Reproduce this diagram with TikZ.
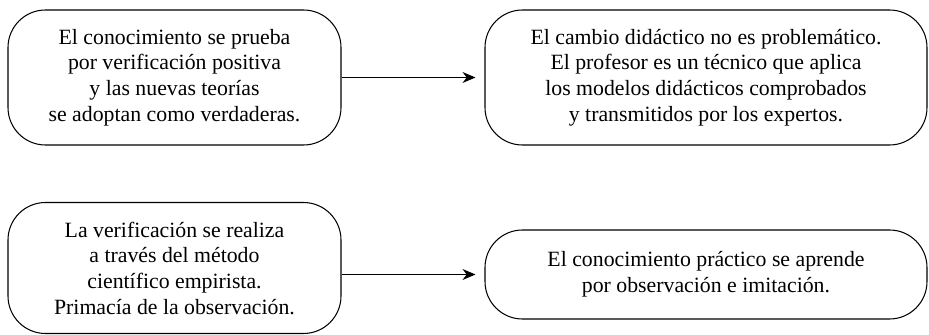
\documentclass[tikz,border=0pt]{standalone}
\usepackage{fontspec}
\setmainfont{Liberation Serif}
\usetikzlibrary{arrows.meta}
\begin{document}
\begin{tikzpicture}[%
% common options for the boxes:
box/.style = {draw, line width=0.6pt, rounded corners=0.75cm, align=center,
            inner sep=0, font=\rmfamily\fontsize{12.4}{14.6}\selectfont},
% common options for the arrows:
link/.style = {-{Stealth[length=2.6mm,width=2.2mm]}, line width=0.6pt, shorten >=0.18cm}]
\useasboundingbox (0,0) rectangle (18.58,-6.70);
\node[box, minimum width=6.66cm, minimum height=2.70cm] (A1) at (3.49,-1.55) {El conocimiento se prueba\\por verificación positiva\\y las nuevas teorías\\se adoptan como verdaderas.};
\node[box, minimum width=8.84cm, minimum height=2.70cm] (B1) at (14.12,-1.55) {El cambio didáctico no es problemático.\\El profesor es un técnico que aplica\\los modelos didácticos comprobados\\y transmitidos por los expertos.};
\node[box, minimum width=6.66cm, minimum height=2.62cm] (A2) at (3.49,-5.36) {La verificación se realiza\\a través del método\\científico empirista.\\Primacía de la observación.};
\node[box, minimum width=8.84cm, minimum height=1.78cm] (B2) at (14.12,-5.49) {El conocimiento práctico se aprende\\por observación e imitación.};
\draw[link] (A1.east) to (B1.west);
\draw[link] (A2.east |- B2.west) to (B2.west);
\end{tikzpicture}
\end{document}
